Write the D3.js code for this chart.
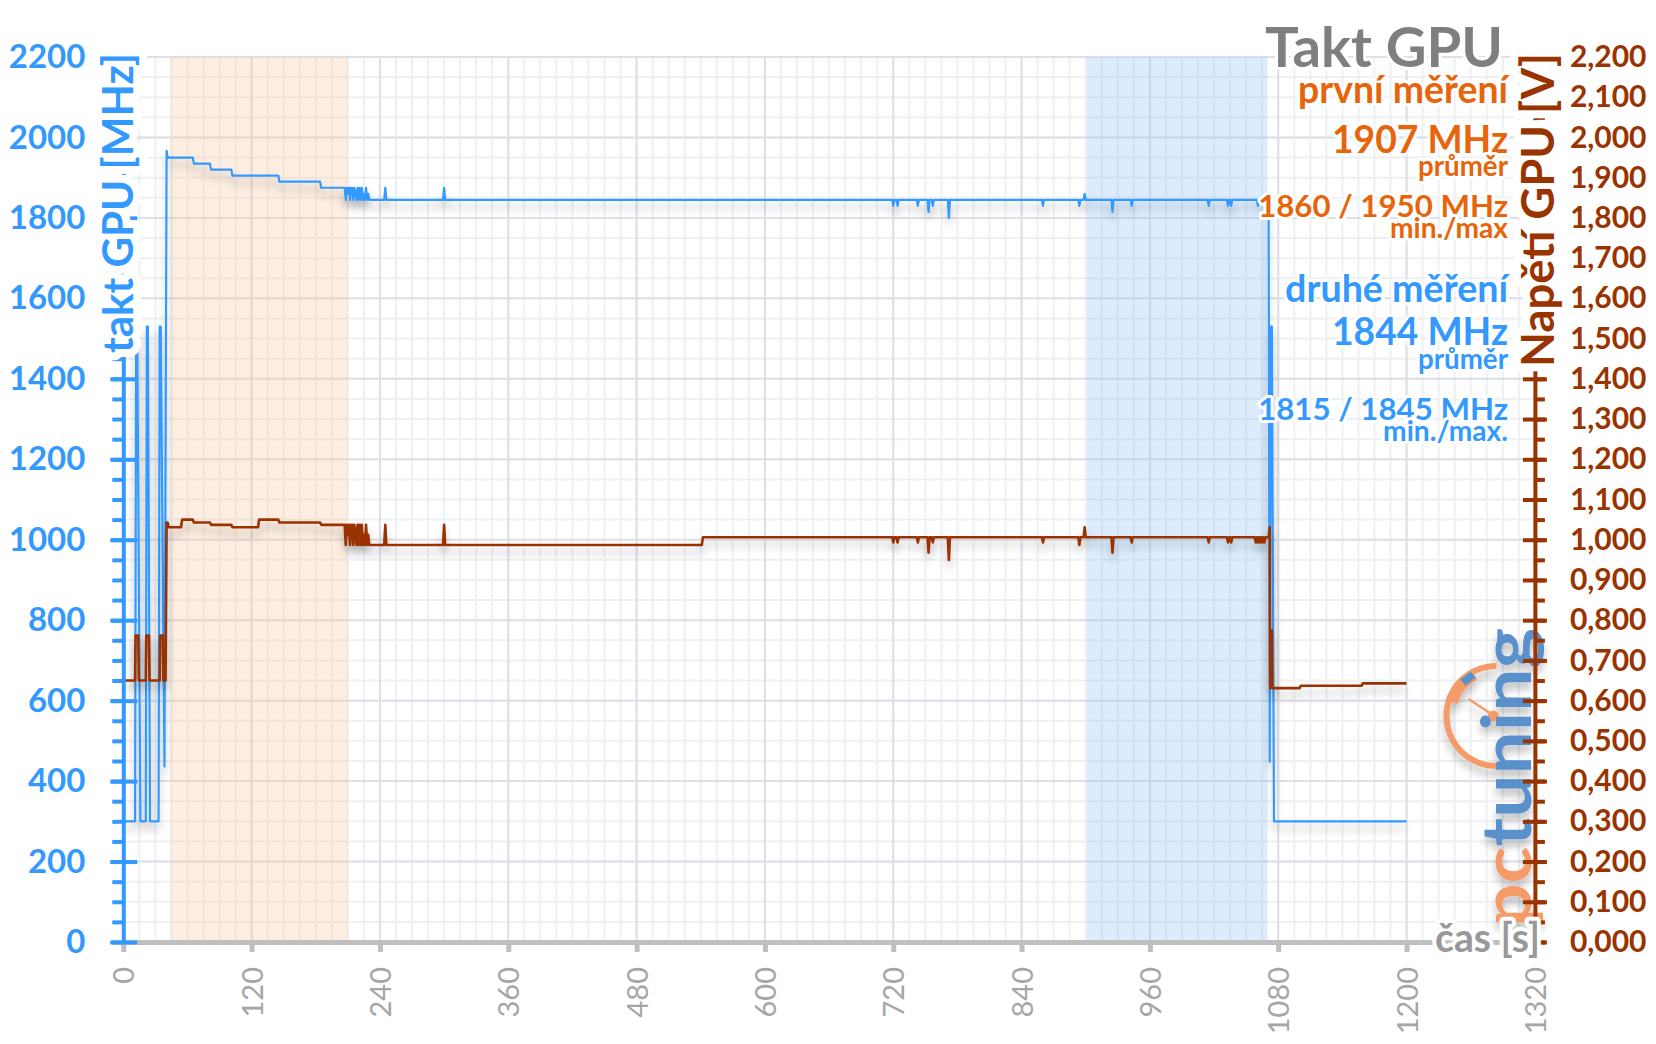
<!DOCTYPE html>
<html><head><meta charset="utf-8">
<script src="https://cdn.jsdelivr.net/npm/d3@7"></script>
<style>body{margin:0;background:#fff}svg{display:block}text{font-family:Lato,'Open Sans',sans-serif}</style>
</head><body><svg id="c" width="1656" height="1044"></svg>
<script>
// ---------- DATA ----------
const clockData = [
 [0,300],[11,300],[12,1530],[13,1530],[16,300],[21,300],[22,1530],[23,1530],[25,300],[33,300],[34,1530],[35,1530],[38.5,436],[40.5,1967],[41.5,1950],
 [65,1950],[66,1935],[81,1935],[82,1920],[101,1920],[102,1905],[145,1905],[146,1890],[184,1890],[185,1875],
 [207,1875],[208,1845],[209,1875],[210,1860],[211,1875],[212,1845],[213,1875],[214,1875],[215,1845],[216,1875],[217,1860],[218,1845],[219,1875],[220,1845],[221,1875],[222,1845],[223,1875],[224,1845],[225,1860],[226,1845],[227,1875],[228,1845],[229,1860],[230,1845],
 [244,1845],[245,1875],[246,1845],[299,1845],[300,1875],[301,1845],
 [719,1845],[720,1830],[721,1845],[723,1845],[724,1830],[725,1845],[742,1845],[743,1830],[744,1845],[752,1845],[753,1815],[754,1845],[756,1845],[757,1830],[758,1845],[771,1845],[772,1800],[773,1845],
 [859,1845],[860,1830],[861,1845],[893,1845],[894,1830],[895,1845],[898,1845],[899,1860],[900,1845],[924,1845],[925,1815],[926,1845],[942,1845],[943,1830],[944,1845],
 [1014,1845],[1015,1830],[1016,1845],[1032,1845],[1033,1830],[1034,1845],[1035,1845],[1036,1830],[1037,1845],[1060,1845],[1061,1830],[1062,1845],
 [1071,1845],[1072,448],[1073,1530],[1074,1530],[1076,300],[1200,300]
];
const voltData = [
 [0,0.650],[11,0.650],[11.5,0.762],[14,0.762],[14.5,0.650],[21,0.650],[21.5,0.762],[24,0.762],[24.5,0.650],[34,0.650],[34.5,0.762],[37,0.762],[37.5,0.650],[39.5,0.650],
 [40.5,1.043],[41.5,1.043],[42.5,1.031],[54,1.031],[55,1.050],[65,1.050],[66,1.043],[81,1.043],[82,1.037],[101,1.037],[102,1.031],[126,1.031],[127,1.050],[145,1.050],[146,1.043],[184,1.043],[185,1.037],
 [207,1.037],[208,0.987],[209,1.037],[210,1.012],[211,1.037],[212,0.987],[213,1.037],[214,1.037],[215,0.987],[216,1.037],[217,1.012],[218,0.987],[219,1.037],[220,0.987],[221,1.037],[222,0.987],[223,1.037],[224,0.987],[225,1.012],[226,0.987],[227,1.037],[228,0.987],[229,1.012],[230,0.987],
 [244,0.987],[245,1.037],[246,0.987],[299,0.987],[300,1.037],[301,0.987],[541,0.987],[542,1.006],
 [719,1.006],[720,0.993],[721,1.006],[723,1.006],[724,0.993],[725,1.006],[742,1.006],[743,0.993],[744,1.006],[752,1.006],[753,0.968],[754,1.006],[756,1.006],[757,0.993],[758,1.006],[771,1.006],[772,0.950],[773,1.006],
 [859,1.006],[860,0.993],[861,1.006],[893,1.006],[894,0.987],[895,1.006],[898,1.006],[899,1.031],[900,1.006],[924,1.006],[925,0.968],[926,1.006],[942,1.006],[943,0.993],[944,1.006],
 [1014,1.006],[1015,0.993],[1016,1.006],[1032,1.006],[1033,0.993],[1034,1.006],[1035,1.006],[1036,0.993],[1037,1.006],
 [1058,1.006],[1059,0.993],[1060,1.006],[1061,0.993],[1062,1.006],[1063,0.993],[1064,1.006],[1065,0.993],[1066,1.006],[1067,0.993],[1068,1.006],
 [1071,1.006],[1072,1.031],[1072.5,0.631],[1073,0.775],[1074,0.775],[1074.5,0.631],[1100,0.631],[1101,0.637],[1158,0.637],[1159,0.643],[1200,0.643]
];
const timeTicks = [0,120,240,360,480,600,720,840,960,1080,1200,1320];
const clockTicks = [0,200,400,600,800,1000,1200,1400,1600,1800,2000,2200];
const voltTicks = [0,0.1,0.2,0.3,0.4,0.5,0.6,0.7,0.8,0.9,1.0,1.1,1.2,1.3,1.4,1.5,1.6,1.7,1.8,1.9,2.0,2.1,2.2];
const firstBand = [44,210];
const secondBand = [901,1070];
const chartTitle = "Takt GPU";
const leftTitle = "takt GPU [MHz]";
const rightTitle = "Napětí GPU [V]";
const xTitle = "čas [s]";
const firstLabels = ["první měření","1907 MHz","průměr","1860 / 1950 MHz","min./max"];
const secondLabels = ["druhé měření","1844 MHz","průměr","1815 / 1845 MHz","min./max."];

// ---------- SETUP ----------
const svg = d3.select("#c");
const L = 123.3, R = 1534.9, T = 57, B = 942;
const x = d3.scaleLinear().domain([0,1320]).range([L,R]);
const yL = d3.scaleLinear().domain([0,2200]).range([B,T]);
const yR = d3.scaleLinear().domain([0,2.2]).range([B,T]);
const BLUE="#3399ff", BROWN="#993300", ORANGE="#e8640a", GRAY="#7f7f7f";

const defs = svg.append("defs");
const f = defs.append("filter").attr("id","sh").attr("x","-5%").attr("y","-10%").attr("width","110%").attr("height","130%");
f.append("feGaussianBlur").attr("in","SourceAlpha").attr("stdDeviation",4).attr("result","b");
f.append("feOffset").attr("in","b").attr("dy",7).attr("result","o");
f.append("feComponentTransfer").attr("in","o").attr("result","o2").append("feFuncA").attr("type","linear").attr("slope",0.28);
const m = f.append("feMerge"); m.append("feMergeNode").attr("in","o2"); m.append("feMergeNode").attr("in","SourceGraphic");

// grid
const g = svg.append("g");
g.selectAll(".vmin").data(d3.range(0,1321,15)).join("line")
 .attr("x1",d=>x(d)).attr("x2",d=>x(d)).attr("y1",T).attr("y2",B).attr("stroke","#eef0f4").attr("stroke-width",2);
g.selectAll(".hmin").data(d3.range(0,2201,50)).join("line").attr("class","hmin")
 .attr("y1",d=>yL(d)).attr("y2",d=>yL(d)).attr("x1",L).attr("x2",R).attr("stroke","#eef0f4").attr("stroke-width",2);
g.selectAll(".vmaj").data(timeTicks).join("line").attr("class","vmaj")
 .attr("x1",d=>x(d)).attr("x2",d=>x(d)).attr("y1",T).attr("y2",B).attr("stroke","#dde0e7").attr("stroke-width",2);
g.selectAll(".hmaj").data(clockTicks).join("line").attr("class","hmaj")
 .attr("y1",d=>yL(d)).attr("y2",d=>yL(d)).attr("x1",L).attr("x2",R).attr("stroke","#dde0e7").attr("stroke-width",2);

// bands
svg.append("rect").attr("x",x(firstBand[0])).attr("width",x(firstBand[1])-x(firstBand[0])).attr("y",T).attr("height",B-T)
 .attr("fill","#f9c89a").attr("opacity",0.3);
svg.append("rect").attr("x",x(secondBand[0])).attr("width",x(secondBand[1])-x(secondBand[0])).attr("y",T).attr("height",B-T)
 .attr("fill","#8cc0f8").attr("opacity",0.3);

// bottom axis
const ax = svg.append("g").attr("transform",`translate(0,${B})`)
 .call(d3.axisBottom(x).tickValues(timeTicks).tickSize(10).tickSizeOuter(0).tickFormat(d3.format("d")));
ax.select(".domain").attr("stroke","#bfbfbf").attr("stroke-width",5);
ax.selectAll(".tick line").attr("stroke","#bfbfbf").attr("stroke-width",5);
ax.selectAll(".tick text").attr("transform","rotate(-90)").attr("x",-25).attr("y",0).attr("dy","0.36em")
 .attr("text-anchor","end").attr("fill","#a6a6a6").attr("font-size",29).attr("font-family","Lato");

// lines
svg.append("path").datum(clockData).attr("d",d3.line().x(d=>x(d[0])).y(d=>yL(d[1]))).attr("fill","none")
 .attr("stroke",BLUE).attr("stroke-width",2.2).attr("stroke-linejoin","round").attr("filter","url(#sh)");
svg.append("path").datum(voltData).attr("d",d3.line().x(d=>x(d[0])).y(d=>yR(d[1]))).attr("fill","none")
 .attr("stroke",BROWN).attr("stroke-width",2.6).attr("stroke-linejoin","round").attr("filter","url(#sh)");

// logo
const lg = svg.append("g").attr("opacity",0.9).attr("filter","url(#sh)");
const cx = 1496.5, cy = 716;
lg.append("path").attr("transform",`translate(${cx},${cy})`)
 .attr("d",d3.arc().innerRadius(47).outerRadius(53).startAngle(-Math.PI).endAngle(0)()).attr("fill","#f5915a");
lg.append("path").attr("transform",`translate(${cx},${cy})`)
 .attr("d",d3.arc().innerRadius(41).outerRadius(53).startAngle(-73*Math.PI/180).endAngle(-28*Math.PI/180)()).attr("fill","#f5915a");
lg.append("rect").attr("x",-4).attr("y",-7).attr("width",8).attr("height",13).attr("fill","#4a85c6")
 .attr("transform",`translate(${cx-28.9},${cy-37}) rotate(52)`);
lg.append("line").attr("x1",cx-2).attr("y1",cy).attr("x2",cx-28).attr("y2",cy-17).attr("stroke","#f5915a").attr("stroke-width",2.5);
lg.append("circle").attr("cx",cx-3).attr("cy",cy).attr("r",5.5).attr("fill","#f5915a");
const lt = lg.append("text").attr("transform","translate(1531,927) rotate(-90)").attr("font-size",68).attr("font-weight",700)
 .attr("font-family","DejaVu Sans").attr("textLength",299).attr("lengthAdjust","spacingAndGlyphs");
lt.append("tspan").attr("fill","#f5915a").text("pc");
lt.append("tspan").attr("fill","#4a85c6").text("tuning");

// left axis
const la = svg.append("g").attr("transform",`translate(${L},0)`);
la.append("g").call(d3.axisLeft(yL).tickValues(d3.range(0,2201,50)).tickSize(11).tickSizeOuter(0).tickFormat(""))
 .call(s=>{s.select(".domain").remove(); s.selectAll("line").attr("stroke",BLUE).attr("stroke-width",4);});
la.append("g").call(d3.axisLeft(yL).tickValues(clockTicks).tickSize(13).tickSizeOuter(0).tickPadding(25).tickFormat(d3.format("d")))
 .call(s=>{s.select(".domain").attr("stroke",BLUE).attr("stroke-width",4);
  s.selectAll(".tick line").attr("x2",-13).attr("x1",14).attr("stroke",BLUE).attr("stroke-width",4);
  s.selectAll(".tick text").attr("fill",BLUE).attr("font-size",33).attr("font-weight",700).attr("font-family","Lato");});

// right axis
const ra = svg.append("g").attr("transform",`translate(${R},0)`);
ra.append("g").call(d3.axisRight(yR).tickValues(d3.range(0,45).map(i=>i*0.05)).tickSize(10).tickSizeOuter(0).tickFormat(""))
 .call(s=>{s.select(".domain").remove(); s.selectAll("line").attr("stroke",BROWN).attr("stroke-width",4);});
ra.append("g").call(d3.axisRight(yR).tickValues(voltTicks).tickSize(12).tickSizeOuter(0).tickPadding(23)
   .tickFormat(d=>d3.format(".3f")(d).replace(".",",")))
 .call(s=>{s.select(".domain").attr("stroke",BROWN).attr("stroke-width",4);
  s.selectAll(".tick line").attr("x1",-12).attr("stroke",BROWN).attr("stroke-width",4);
  s.selectAll(".tick text").attr("fill",BROWN).attr("font-size",30).attr("font-weight",700).attr("font-family","Lato");});

// text helpers
function halo(sel,w){return sel.attr("stroke","#fff").attr("stroke-width",w).attr("stroke-linejoin","round").attr("paint-order","stroke");}
function fit(sel,w){const n=sel.node();const len=n.getComputedTextLength();const fs=parseFloat(sel.attr("font-size"));sel.attr("font-size",fs*w/len);return sel;}
function label(txt,xr,yb,fs,color,w,hw){
  const t = svg.append("text").attr("x",xr).attr("y",yb).attr("text-anchor","end").attr("font-size",fs)
   .attr("font-weight",700).attr("fill",color).text(txt);
  halo(t,hw||6); if(w) fit(t,w); return t;
}

// axis titles
const ltt = svg.append("text").attr("transform",`translate(133,53) rotate(-90)`).attr("text-anchor","end")
 .attr("font-size",42).attr("font-weight",700).attr("fill",BLUE).text(leftTitle);
halo(ltt,16); fit(ltt,300);
const rtt = svg.append("text").attr("transform",`translate(1554,53) rotate(-90)`).attr("text-anchor","end")
 .attr("font-size",46).attr("font-weight",700).attr("fill",BROWN).text(rightTitle);
halo(rtt,16); fit(rtt,314);
label(xTitle,1540,952,36,"#999999",105,8);

// title + annotations
label(chartTitle,1503,67,56,GRAY,238,6);
label(firstLabels[0],1508,103,34,ORANGE,210);
label(firstLabels[1],1508,153,38,ORANGE,176);
label(firstLabels[2],1508,176,24,ORANGE,90);
label(firstLabels[3],1508,217,32,ORANGE,250);
label(firstLabels[4],1508,238,24,ORANGE,118);
label(secondLabels[0],1508,302,34,BLUE,223);
label(secondLabels[1],1508,345,38,BLUE,176);
label(secondLabels[2],1508,369,24,BLUE,90);
label(secondLabels[3],1508,420,32,BLUE,250);
label(secondLabels[4],1508,441,24,BLUE,125);
</script></body></html>
